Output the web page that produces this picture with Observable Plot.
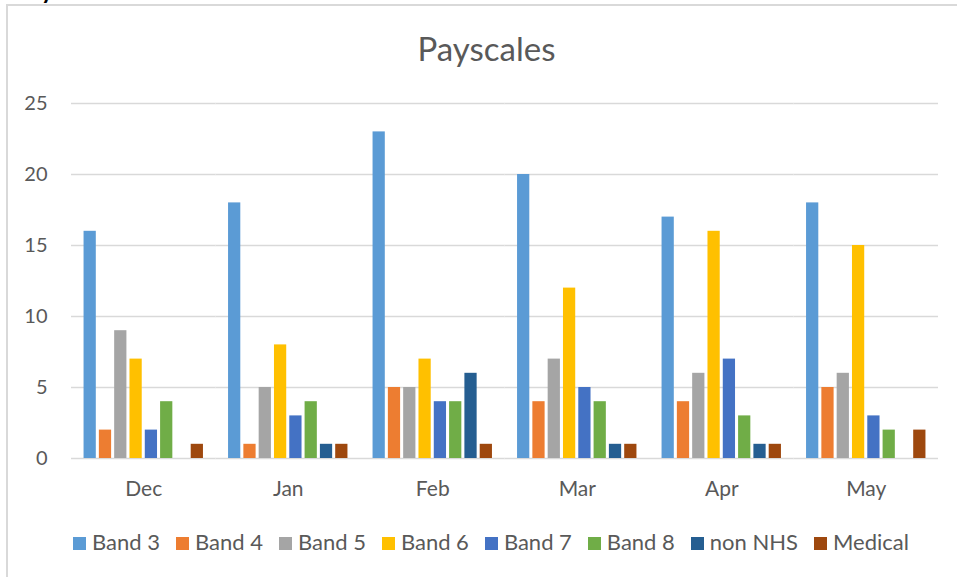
<!DOCTYPE html>
<html>
<head>
<meta charset="utf-8">
<script src="https://cdn.jsdelivr.net/npm/d3@7"></script>
<script src="https://cdn.jsdelivr.net/npm/@observablehq/plot@0.6"></script>
<style>
  html, body { margin: 0; padding: 0; background: #fff; }
  #wrap { position: relative; width: 957px; height: 577px; overflow: hidden; font-family: Lato, "Noto Sans", sans-serif; }
  #frame { position: absolute; left: 6px; top: 4px; width: 1000px; height: 1000px; border: 2px solid #d9d9d9; box-sizing: border-box; }
  #frag { position: absolute; left: 41px; top: -22px; font: bold 24px/24px Lato, sans-serif; color: #000; }
  #title { position: absolute; left: 0; width: 973px; top: 28px; text-align: center; font-size: 33px; color: #595959; line-height: 40px; }
  #plot { position: absolute; left: 0; top: 85px; }
  #legend { position: absolute; left: 73px; top: 529px; display: flex; gap: 16px; font-size: 22px; color: #595959; line-height: 26px; white-space: nowrap; }
  #legend .item { display: flex; align-items: center; gap: 6px; }
  #legend .sw { width: 13px; height: 13px; display: inline-block; margin-top: 2px; }
</style>
</head>
<body>
<div id="wrap">
  <div id="frame"></div>
  <div id="frag">y</div>
  <div id="title">Payscales</div>
  <div id="plot"></div>
  <div id="legend"></div>
</div>
<script>
const months = ["Dec", "Jan", "Feb", "Mar", "Apr", "May"];
const series = ["Band 3", "Band 4", "Band 5", "Band 6", "Band 7", "Band 8", "non NHS", "Medical"];
const colors = ["#5B9BD5", "#ED7D31", "#A5A5A5", "#FFC000", "#4472C4", "#70AD47", "#255E91", "#9E480E"];
const band3 = [16, 18, 23, 20, 17, 18];
const band4 = [2, 1, 5, 4, 4, 5];
const band5 = [9, 5, 5, 7, 6, 6];
const band6 = [7, 8, 7, 12, 16, 15];
const band7 = [2, 3, 4, 5, 7, 3];
const band8 = [4, 4, 4, 4, 3, 2];
const nonNHS = [0, 1, 6, 1, 1, 0];
const medical = [1, 1, 1, 1, 1, 2];
const yTicks = [0, 5, 10, 15, 20, 25];

const values = [band3, band4, band5, band6, band7, band8, nonNHS, medical];
const data = [];
months.forEach((m, i) => {
  series.forEach((s, j) => {
    data.push({month: m, series: s, value: values[j][i]});
  });
});

const chart = Plot.plot({
  width: 957,
  height: 430,
  marginLeft: 71,
  marginRight: 19,
  marginTop: 18,
  marginBottom: 57,
  style: {fontFamily: "Lato, 'Noto Sans', sans-serif", color: "#595959", background: "transparent"},
  fx: {domain: months, padding: 0, round: false, label: null},
  x: {domain: series, paddingInner: 0.2, paddingOuter: 0.82, round: false, axis: null},
  y: {domain: [0, 25], label: null},
  color: {domain: series, range: colors},
  marks: [
    Plot.ruleY(yTicks, {stroke: "#d9d9d9", strokeWidth: 1.5}),
    Plot.barY(data.filter(d => d.value > 0), {fx: "month", x: "series", y: "value", fill: "series"}),
    Plot.axisY({ticks: yTicks, tickSize: 0, tickPadding: 24, fontSize: 20, label: null}),
    Plot.axisFx({anchor: "bottom", tickSize: 0, tickPadding: 23, fontSize: 21, label: null})
  ]
});
document.getElementById("plot").appendChild(chart);

const legend = document.getElementById("legend");
series.forEach((s, j) => {
  const item = document.createElement("div");
  item.className = "item";
  const sw = document.createElement("span");
  sw.className = "sw";
  sw.style.background = colors[j];
  const t = document.createElement("span");
  t.textContent = s;
  item.appendChild(sw);
  item.appendChild(t);
  legend.appendChild(item);
});
</script>
</body>
</html>
